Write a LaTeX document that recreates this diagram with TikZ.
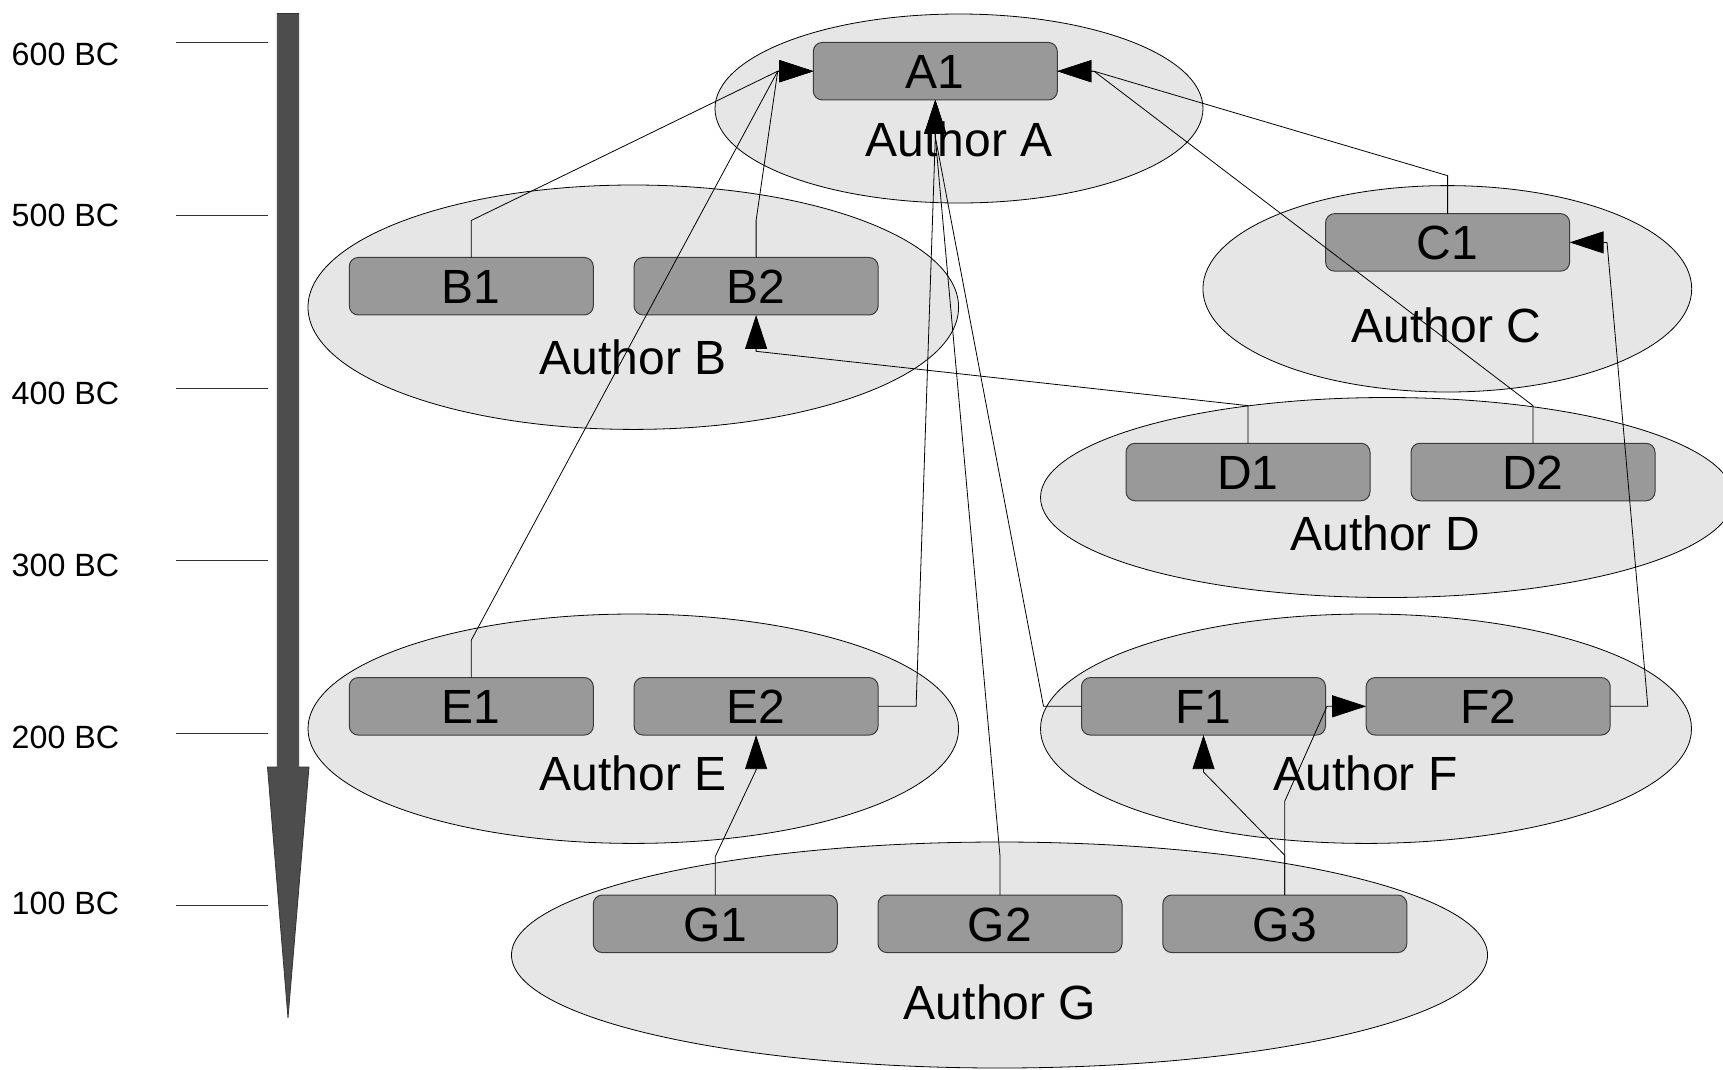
\documentclass[tikz,border=0pt]{standalone}
\usepackage{fontspec}
\setmainfont{Liberation Sans}
\usetikzlibrary{arrows.meta,shapes.geometric}
\definecolor{ellfill}{HTML}{E6E6E6}
\definecolor{boxfill}{HTML}{999999}
\definecolor{boxline}{HTML}{3C3C3C}
\definecolor{tlfill}{HTML}{4D4D4D}
\begin{document}
\begin{tikzpicture}[x=1pt,y=-1pt,
  author/.style={ellipse, draw=black, line width=0.8pt, fill=ellfill, inner sep=0pt},
  authorlabel/.style={anchor=base, inner sep=0pt, font=\fontsize{48}{52}\selectfont},
  work/.style={rectangle, rounded corners=9pt, draw=boxline, line width=1pt, fill=boxfill,
    minimum width=244pt, minimum height=57.5pt, inner sep=0pt, outer sep=0pt,
    text height=34.4pt, text depth=0pt, font=\fontsize{48}{52}\selectfont},
  cite/.style={draw=black, line width=0.8pt, -{Triangle[length=34pt,width=22pt]}},
  yearlabel/.style={anchor=base west, inner sep=0pt, font=\fontsize{32.2}{35}\selectfont},
  yeartick/.style={draw=black!80, line width=0.8pt}
]
\useasboundingbox (0,0) rectangle (1723,1069);

% author ellipses
\node[author, minimum width=488pt, minimum height=189pt] (ellA) at (959,108.5) {};
\node[author, minimum width=650.6pt, minimum height=244.4pt] (ellB) at (633.3,307.2) {};
\node[author, minimum width=488.8pt, minimum height=206.4pt] (ellC) at (1447.3,288.8) {};
\node[author, minimum width=693pt, minimum height=200pt] (ellD) at (1387,497.5) {};
\node[author, minimum width=650.6pt, minimum height=229.4pt] (ellE) at (633.3,728.7) {};
\node[author, minimum width=651pt, minimum height=229.4pt] (ellF) at (1366,728.7) {};
\node[author, minimum width=976pt, minimum height=226pt] (ellG) at (999.5,955) {};

% author labels
\node[authorlabel] (labA) at (959,156) {Author A};
\node[authorlabel] (labB) at (633,374.3) {Author B};
\node[authorlabel] (labC) at (1446.5,342.7) {Author C};
\node[authorlabel] (labD) at (1385,550) {Author D};
\node[authorlabel] (labE) at (633,790.7) {Author E};
\node[authorlabel] (labF) at (1365.4,790.7) {Author F};
\node[authorlabel] (labG) at (1000,1019.3) {Author G};

% works
\node[work] (A1) at (935.3,71.2) {A1};
\node[work] (B1) at (471.3,286.2) {B1};
\node[work] (B2) at (756.1,286.2) {B2};
\node[work] (C1) at (1447.6,242.4) {C1};
\node[work] (D1) at (1248,472) {D1};
\node[work] (D2) at (1533,472) {D2};
\node[work] (E1) at (471.3,706.3) {E1};
\node[work] (E2) at (756.1,706.3) {E2};
\node[work] (F1) at (1203.5,706.3) {F1};
\node[work] (F2) at (1488.2,706.3) {F2};
\node[work] (G1) at (715.3,923.8) {G1};
\node[work] (G2) at (1000,923.8) {G2};
\node[work] (G3) at (1284.8,923.8) {G3};

% junction points
\coordinate (jAw) at (777.7,71.2);
\coordinate (jAs) at (935.3,137);
\coordinate (jAe) at (1094,71.2);
\coordinate (jB2s) at (756.1,351.3);
\coordinate (jC1e) at (1607,242.4);
\coordinate (jE2s) at (756.1,770);
\coordinate (jF1s) at (1203.5,772);
\coordinate (jF2w) at (1327,706.3);

% connectors
\draw[cite] (B1.north) -- ++(0,-37) -- (jAw) -- (A1.west);
\draw[cite] (B2.north) -- ++(0,-37) -- (jAw) -- (A1.west);
\draw[cite] (E1.north) -- ++(0,-37.5) -- (jAw) -- (A1.west);
\draw[cite] (E2.east) -- ++(38,0) -- (jAs) -- (A1.south);
\draw[cite] (G2.north) -- ++(0,-39) -- (jAs) -- (A1.south);
\draw[cite] (F1.west) -- ++(-38,0) -- (jAs) -- (A1.south);
\draw[cite] (C1.north) -- ++(0,-38) -- (jAe) -- (A1.east);
\draw[cite] (D2.north) -- ++(0,-37.6) -- (jAe) -- (A1.east);
\draw[cite] (D1.north) -- ++(0,-37.6) -- (jB2s) -- (B2.south);
\draw[cite] (F2.east) -- ++(37.6,0) -- (jC1e) -- (C1.east);
\draw[cite] (G1.north) -- ++(0,-38.6) -- (jE2s) -- (E2.south);
\draw[cite] (G3.north) -- ++(0,-39.7) -- (jF1s) -- (F1.south);
\draw[cite] (G3.north) -- ++(0,-94) -- (jF2w) -- (F2.west);

% timeline
\draw[fill=tlfill, draw=black!80, line width=0.8pt]
  (277.3,13.5) -- (298.7,13.5) -- (298.7,767) -- (309,767) -- (288,1018)
  -- (267.5,767) -- (277.3,767) -- cycle;
\foreach \yy in {42.5,215.2,388,560.7,733.4,905.4}
  \draw[yeartick] (176,\yy) -- (268,\yy);
\node[yearlabel] (y600) at (11.5,65.5) {600 BC};
\node[yearlabel] (y500) at (11.5,226.5) {500 BC};
\node[yearlabel] (y400) at (11.5,404) {400 BC};
\node[yearlabel] (y300) at (11.5,576.5) {300 BC};
\node[yearlabel] (y200) at (11.5,748) {200 BC};
\node[yearlabel] (y100) at (11.5,914.5) {100 BC};
\end{tikzpicture}
\end{document}
